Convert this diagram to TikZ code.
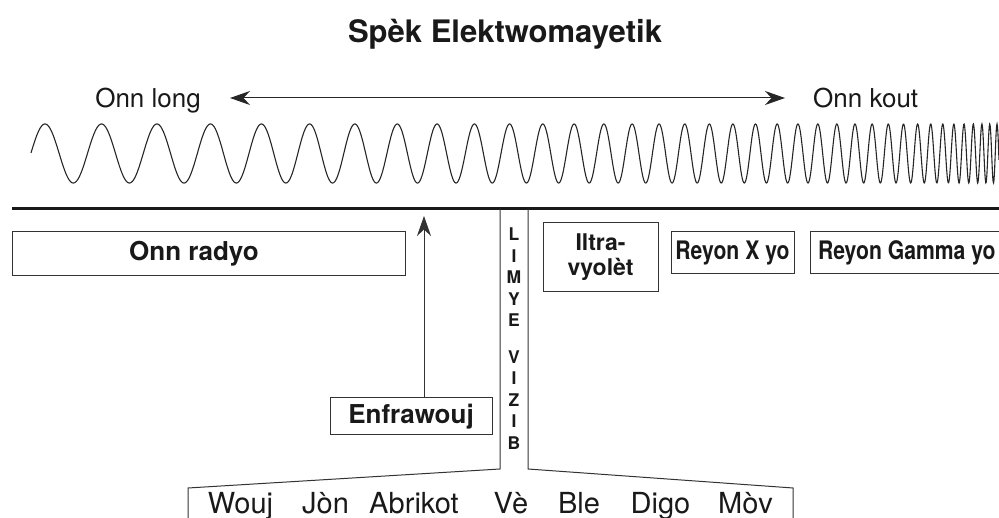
\documentclass[tikz,border=0pt]{standalone}
\usepackage{fontspec}
\setmainfont{TeX Gyre Heros}
\newfontfamily\heroscond[FakeStretch=0.83]{TeX Gyre Heros}
\usetikzlibrary{arrows.meta,positioning}

\begin{document}
\begin{tikzpicture}[x=1pt, y=-1pt, >={Stealth[length=20pt,width=14pt]},
  declare function={wu(\t)=(\t-45)/952; wq(\t)=wu(\t)*wu(\t)*wu(\t)*wu(\t);
    wph(\t)=16.79*wu(\t)+15.54*wu(\t)*wu(\t)*wu(\t)+3.67*wq(\t)*wq(\t)*wq(\t)*wq(\t)*wq(\t);}]
\tikzstyle{box}=[draw=black!80, line width=1pt, inner sep=0pt, align=center, text=black!90]
\tikzstyle{big}=[box, font=\fontsize{26}{25}\selectfont\bfseries]
\tikzstyle{raybox}=[box, font=\heroscond\fontsize{25.5}{25}\selectfont\bfseries]
\tikzstyle{plain}=[inner sep=0pt, text=black!90, font=\fontsize{26}{30}\selectfont]
\tikzstyle{funnel}=[draw=black!80, line width=1pt]
\useasboundingbox (0,0) rectangle (999,518);
\clip (0,0) rectangle (999,518);

\node[inner sep=0pt, anchor=base, text=black!90, font=\fontsize{31}{36}\selectfont\bfseries] (title) at (505,43) {Spèk Elektwomayetik};

\node[plain, anchor=east, text height=19pt, text depth=0pt] (long) at (201,98) {Onn long};
\node[plain, anchor=west, text height=19pt, text depth=0pt] (kout) at (813,98) {Onn kout};
\draw[<->, line width=1pt, black!85, shorten <=29pt, shorten >=28pt] (long.east) -- (kout.west);

\draw[line width=1.1pt, black!85] plot[domain=31:999, samples=2500] (\x, {153.5-29.5*cos(360*wph(\x))});
\draw[line width=3pt, black!90] (12,208.5) -- (1005,208.5);

\node[big, minimum width=393pt, minimum height=44pt] (radyo) at (208.5,254) {Onn radyo\hspace*{29pt}};
\node[big, minimum width=162pt, minimum height=37pt] (enfra) at (411,416.5) {Enfrawouj};
\coordinate (tip) at (424,216);
\draw[->, line width=1pt, black!80] (enfra.north -| tip) -- (tip);

\node[big, font=\fontsize{23}{25}\selectfont\bfseries, minimum width=115pt, minimum height=69pt] (ultra) at (600.5,257.5) {Iltra-\\vyolèt};
\node[raybox, minimum width=123pt, minimum height=42pt, anchor=north west, below right=9pt and 12pt of ultra.north east] (xray) {Reyon X yo};
\node[raybox, inner xsep=8pt, minimum height=42pt, right=15pt of xray] (gamma) {Reyon Gamma yo};

\node[inner sep=0pt, anchor=north, align=center, text=black!90, font=\fontsize{17.5}{21.5}\selectfont\bfseries] (limye) at (514,228) {L\\I\\M\\Y\\E\\[15pt]V\\I\\Z\\I\\B};
\draw[funnel] (188,520) -- (188,488) -- (500,469) -- (500,209);
\draw[funnel] (528,209) -- (528,469) -- (793,488) -- (793,520);

\foreach \w/\p [count=\i] in {Wouj/240.5, Jòn/325.5, Abrikot/414, Vè/511, Ble/579, Digo/660.5, Mòv/745.5}
  \node[plain, anchor=base, font=\fontsize{29}{30}\selectfont] (col\i) at (\p,513) {\w};
\end{tikzpicture}
\end{document}
